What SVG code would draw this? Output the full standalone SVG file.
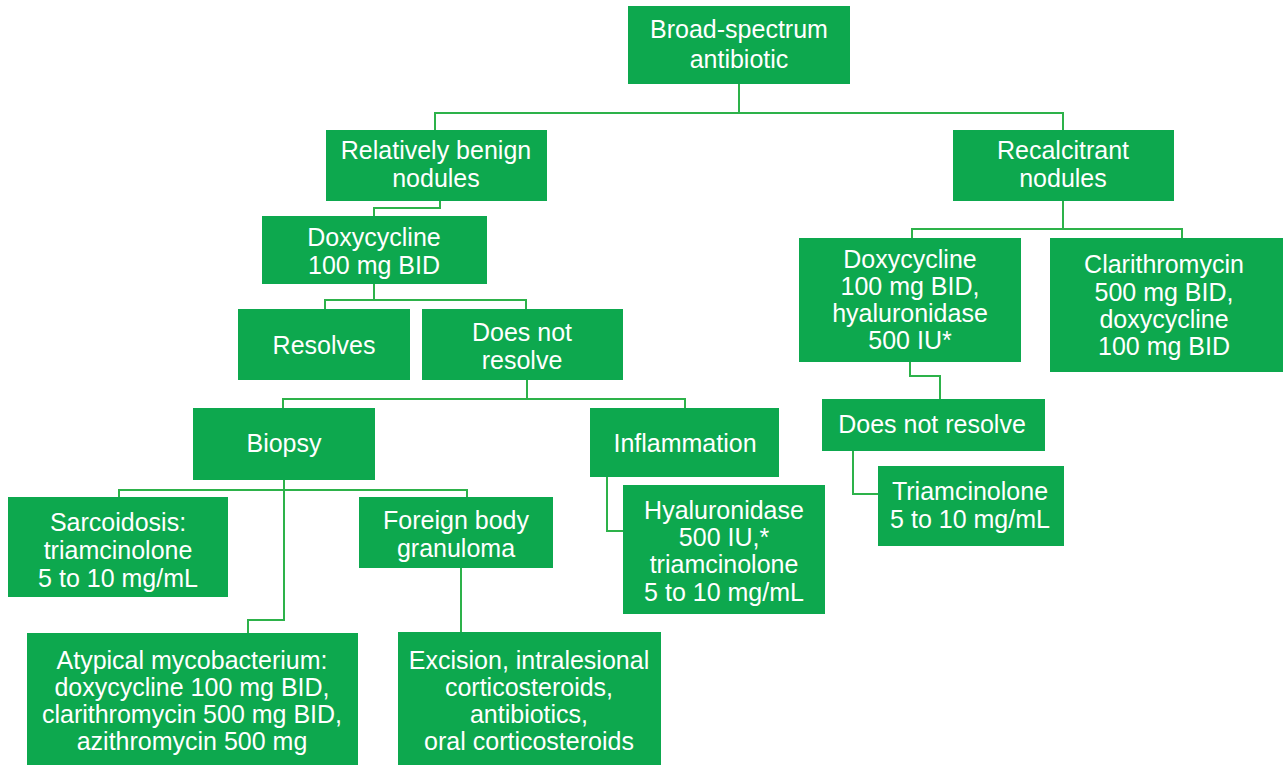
<svg xmlns="http://www.w3.org/2000/svg" width="1283" height="765" viewBox="0 0 1283 765">
<style>
.n{fill:#0DA84E;}
.t{font-family:"Liberation Sans",Arial,sans-serif;font-size:25px;fill:#ffffff;text-anchor:middle;}
.c{fill:none;stroke:#2DB24A;stroke-width:2;}
</style>
<rect width="1283" height="765" fill="#ffffff"/>
<g id="connectors" class="c">
<polyline points="739,84 739,113"/>
<polyline points="435,130 435,113 1063,113 1063,130"/>
<polyline points="440,201 440,208 374,208 374,216"/>
<polyline points="374,284 374,300 325,300 325,309"/>
<polyline points="374,300 526,300 526,309"/>
<polyline points="527,380 527,399 283,399 283,408"/>
<polyline points="527,399 685,399 685,408"/>
<polyline points="284,480 284,490 119,490 119,497"/>
<polyline points="284,490 467,490 467,497"/>
<polyline points="284,490 284,620 248,620 248,633"/>
<polyline points="461,568 461,632"/>
<polyline points="607,477 607,531 623,531"/>
<polyline points="1063,201 1063,229 912,229 912,238"/>
<polyline points="1063,229 1182,229 1182,238"/>
<polyline points="910,362 910,376 940,376 940,399"/>
<polyline points="853,451 853,494 878,494"/>
</g>
<g id="n-broad"><rect class="n" x="628" y="6" width="222" height="78"/><text class="t" x="739" y="38">Broad-spectrum</text><text class="t" x="739" y="68">antibiotic</text></g>
<g id="n-benign"><rect class="n" x="326" y="130" width="221" height="71"/><text class="t" x="436" y="159">Relatively benign</text><text class="t" x="436" y="187">nodules</text></g>
<g id="n-recalc"><rect class="n" x="953" y="130" width="221" height="71"/><text class="t" x="1063" y="159">Recalcitrant</text><text class="t" x="1063" y="187">nodules</text></g>
<g id="n-doxy"><rect class="n" x="262" y="216" width="225" height="68"/><text class="t" x="374" y="246">Doxycycline</text><text class="t" x="374" y="274">100 mg BID</text></g>
<g id="n-resolves"><rect class="n" x="238" y="309" width="172" height="71"/><text class="t" x="324" y="354">Resolves</text></g>
<g id="n-dnr"><rect class="n" x="422" y="309" width="201" height="71"/><text class="t" x="522" y="341">Does not</text><text class="t" x="522" y="369">resolve</text></g>
<g id="n-biopsy"><rect class="n" x="193" y="408" width="182" height="72"/><text class="t" x="284" y="452">Biopsy</text></g>
<g id="n-inflam"><rect class="n" x="590" y="408" width="189" height="69"/><text class="t" x="685" y="452">Inflammation</text></g>
<g id="n-sarc"><rect class="n" x="8" y="497" width="220" height="100"/><text class="t" x="118" y="531">Sarcoidosis:</text><text class="t" x="118" y="559">triamcinolone</text><text class="t" x="118" y="587">5 to 10 mg/mL</text></g>
<g id="n-foreign"><rect class="n" x="359" y="497" width="194" height="71"/><text class="t" x="456" y="529">Foreign body</text><text class="t" x="456" y="557">granuloma</text></g>
<g id="n-hyal"><rect class="n" x="623" y="485" width="202" height="129"/><text class="t" x="724" y="519">Hyaluronidase</text><text class="t" x="724" y="546">500 IU,*</text><text class="t" x="724" y="573">triamcinolone</text><text class="t" x="724" y="601">5 to 10 mg/mL</text></g>
<g id="n-atyp"><rect class="n" x="27" y="633" width="331" height="132"/><text class="t" x="192" y="669">Atypical mycobacterium:</text><text class="t" x="192" y="696">doxycycline 100 mg BID,</text><text class="t" x="192" y="723">clarithromycin 500 mg BID,</text><text class="t" x="192" y="750">azithromycin 500 mg</text></g>
<g id="n-excision"><rect class="n" x="398" y="632" width="263" height="133"/><text class="t" x="529" y="669">Excision, intralesional</text><text class="t" x="529" y="696">corticosteroids,</text><text class="t" x="529" y="723">antibiotics,</text><text class="t" x="529" y="750">oral corticosteroids</text></g>
<g id="n-doxy2"><rect class="n" x="799" y="238" width="222" height="124"/><text class="t" x="910" y="268">Doxycycline</text><text class="t" x="910" y="295">100 mg BID,</text><text class="t" x="910" y="322">hyaluronidase</text><text class="t" x="910" y="349">500 IU*</text></g>
<g id="n-clari"><rect class="n" x="1050" y="238" width="233" height="134"/><text class="t" x="1164" y="273">Clarithromycin</text><text class="t" x="1164" y="301">500 mg BID,</text><text class="t" x="1164" y="328">doxycycline</text><text class="t" x="1164" y="355">100 mg BID</text></g>
<g id="n-dnr2"><rect class="n" x="822" y="399" width="223" height="52"/><text class="t" x="932" y="433">Does not resolve</text></g>
<g id="n-triam"><rect class="n" x="878" y="466" width="186" height="80"/><text class="t" x="970" y="500">Triamcinolone</text><text class="t" x="970" y="528">5 to 10 mg/mL</text></g>
</svg>
